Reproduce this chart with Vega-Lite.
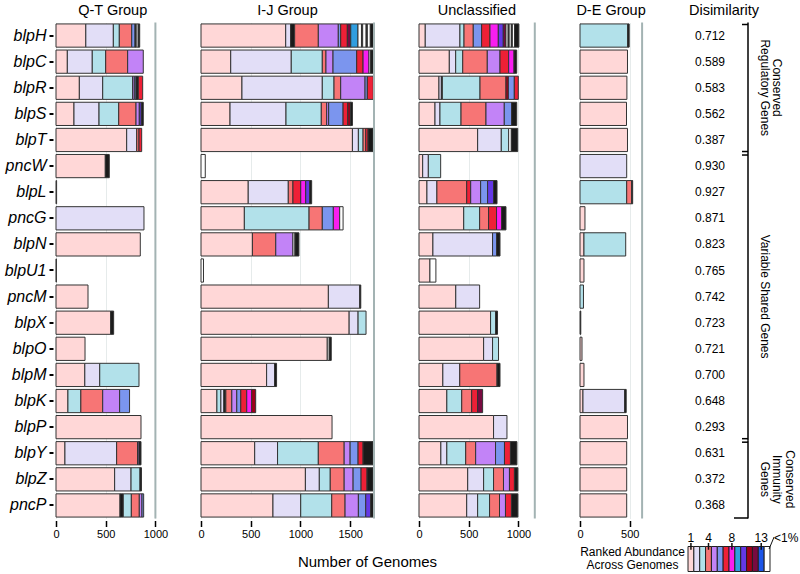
{
"$schema": "https://vega.github.io/schema/vega-lite/v6.json",
"padding": {"left": 4, "top": 2.5, "right": 0, "bottom": 0},
"background": "white",
"config": {
  "view": {"stroke": null},
  "font": "Liberation Sans",
  "title": {"fontSize": 14.5, "fontWeight": "normal", "anchor": "middle", "offset": 3, "baseline": "alphabetic", "font": "Liberation Sans", "color": "#000"},
  "axis": {"labelFont": "Liberation Sans", "titleFont": "Liberation Sans", "labelColor": "#000", "titleColor": "#000"},
  "text": {"font": "Liberation Sans", "color": "#000"}
},
"datasets": {
 "QT": [
{"g":"blpH","r":"1","n":300},{"g":"blpH","r":"2","n":277},{"g":"blpH","r":"3","n":60},{"g":"blpH","r":"4","n":125},{"g":"blpH","r":"6","n":33},{"g":"blpH","r":"k","n":12},{"g":"blpH","r":"o","n":20},{"g":"blpH","r":"k","n":15},
{"g":"blpC","r":"1","n":114},{"g":"blpC","r":"2","n":251},{"g":"blpC","r":"3","n":135},{"g":"blpC","r":"4","n":221},{"g":"blpC","r":"5","n":157},
{"g":"blpR","r":"1","n":235},{"g":"blpR","r":"2","n":235},{"g":"blpR","r":"3","n":301},{"g":"blpR","r":"5","n":17},{"g":"blpR","r":"6","n":17},{"g":"blpR","r":"k","n":23},{"g":"blpR","r":"7","n":44},
{"g":"blpS","r":"1","n":181},{"g":"blpS","r":"2","n":252},{"g":"blpS","r":"3","n":198},{"g":"blpS","r":"4","n":174},{"g":"blpS","r":"5","n":33},{"g":"blpS","r":"10","n":20},{"g":"blpS","r":"k","n":20},
{"g":"blpT","r":"1","n":711},{"g":"blpT","r":"2","n":101},{"g":"blpT","r":"4","n":23},{"g":"blpT","r":"7","n":27},
{"g":"pncW","r":"1","n":496},{"g":"pncW","r":"k","n":40},
{"g":"blpL","r":"1","n":6},
{"g":"pncG","r":"2","n":885},
{"g":"blpN","r":"1","n":848},
{"g":"blpU1","r":"1","n":4},
{"g":"pncM","r":"1","n":322},
{"g":"blpX","r":"1","n":550},{"g":"blpX","r":"k","n":30},
{"g":"blpO","r":"1","n":292},
{"g":"blpM","r":"1","n":290},{"g":"blpM","r":"2","n":150},{"g":"blpM","r":"3","n":395},
{"g":"blpK","r":"1","n":120},{"g":"blpK","r":"3","n":130},{"g":"blpK","r":"4","n":220},{"g":"blpK","r":"5","n":170},{"g":"blpK","r":"6","n":100},
{"g":"blpP","r":"1","n":855},
{"g":"blpY","r":"1","n":90},{"g":"blpY","r":"2","n":520},{"g":"blpY","r":"4","n":210},{"g":"blpY","r":"5","n":15},{"g":"blpY","r":"k","n":20},
{"g":"blpZ","r":"1","n":590},{"g":"blpZ","r":"2","n":165},{"g":"blpZ","r":"3","n":90},{"g":"blpZ","r":"k","n":15},
{"g":"pncP","r":"1","n":644},{"g":"pncP","r":"k","n":33},{"g":"pncP","r":"3","n":81},{"g":"pncP","r":"4","n":80},{"g":"pncP","r":"5","n":27},{"g":"pncP","r":"6","n":17}
 ],
 "IJ": [
{"g":"blpH","r":"1","n":852},{"g":"blpH","r":"2","n":50},{"g":"blpH","r":"k","n":40},{"g":"blpH","r":"4","n":238},{"g":"blpH","r":"5","n":201},{"g":"blpH","r":"6","n":24},{"g":"blpH","r":"7","n":67},{"g":"blpH","r":"12","n":34},{"g":"blpH","r":"9","n":73},{"g":"blpH","r":"o","n":35},{"g":"blpH","r":"k","n":12},{"g":"blpH","r":"o","n":35},{"g":"blpH","r":"k","n":12},{"g":"blpH","r":"o","n":30},{"g":"blpH","r":"k","n":30},
{"g":"blpC","r":"1","n":299},{"g":"blpC","r":"2","n":609},{"g":"blpC","r":"3","n":312},{"g":"blpC","r":"4","n":37},{"g":"blpC","r":"5","n":71},{"g":"blpC","r":"6","n":238},{"g":"blpC","r":"7","n":64},{"g":"blpC","r":"8","n":60},{"g":"blpC","r":"o","n":17},{"g":"blpC","r":"k","n":26},
{"g":"blpR","r":"1","n":412},{"g":"blpR","r":"2","n":808},{"g":"blpR","r":"3","n":118},{"g":"blpR","r":"4","n":67},{"g":"blpR","r":"5","n":245},{"g":"blpR","r":"6","n":23},{"g":"blpR","r":"7","n":60},
{"g":"blpS","r":"1","n":292},{"g":"blpS","r":"2","n":563},{"g":"blpS","r":"3","n":355},{"g":"blpS","r":"4","n":54},{"g":"blpS","r":"5","n":20},{"g":"blpS","r":"6","n":145},{"g":"blpS","r":"7","n":47},{"g":"blpS","r":"11","n":27},{"g":"blpS","r":"k","n":20},
{"g":"blpT","r":"1","n":1523},{"g":"blpT","r":"2","n":60},{"g":"blpT","r":"3","n":47},{"g":"blpT","r":"4","n":27},{"g":"blpT","r":"7","n":23},{"g":"blpT","r":"k","n":50},
{"g":"pncW","r":"o","n":43},
{"g":"blpL","r":"1","n":475},{"g":"blpL","r":"2","n":403},{"g":"blpL","r":"4","n":47},{"g":"blpL","r":"7","n":78},{"g":"blpL","r":"8","n":50},{"g":"blpL","r":"10","n":40},{"g":"blpL","r":"k","n":20},
{"g":"pncG","r":"1","n":436},{"g":"pncG","r":"3","n":651},{"g":"pncG","r":"4","n":133},{"g":"pncG","r":"6","n":111},{"g":"pncG","r":"8","n":64},{"g":"pncG","r":"o","n":34},
{"g":"blpN","r":"1","n":517},{"g":"blpN","r":"4","n":235},{"g":"blpN","r":"5","n":173},{"g":"blpN","r":"o","n":20},{"g":"blpN","r":"k","n":40},
{"g":"blpU1","r":"o","n":25},
{"g":"pncM","r":"1","n":1281},{"g":"pncM","r":"2","n":316},{"g":"pncM","r":"k","n":10},
{"g":"blpX","r":"1","n":1490},{"g":"blpX","r":"2","n":90},{"g":"blpX","r":"3","n":80},
{"g":"blpO","r":"1","n":1270},{"g":"blpO","r":"o","n":20},{"g":"blpO","r":"k","n":20},
{"g":"blpM","r":"1","n":660},{"g":"blpM","r":"2","n":80},{"g":"blpM","r":"k","n":20},
{"g":"blpK","r":"1","n":160},{"g":"blpK","r":"3","n":40},{"g":"blpK","r":"2","n":30},{"g":"blpK","r":"k","n":20},{"g":"blpK","r":"4","n":60},{"g":"blpK","r":"5","n":50},{"g":"blpK","r":"6","n":40},{"g":"blpK","r":"7","n":60},{"g":"blpK","r":"8","n":50},{"g":"blpK","r":"11","n":40},
{"g":"blpP","r":"1","n":1318},
{"g":"blpY","r":"1","n":540},{"g":"blpY","r":"2","n":230},{"g":"blpY","r":"3","n":410},{"g":"blpY","r":"4","n":260},{"g":"blpY","r":"5","n":60},{"g":"blpY","r":"6","n":80},{"g":"blpY","r":"7","n":50},{"g":"blpY","r":"k","n":100},
{"g":"blpZ","r":"1","n":1050},{"g":"blpZ","r":"2","n":140},{"g":"blpZ","r":"3","n":110},{"g":"blpZ","r":"4","n":140},{"g":"blpZ","r":"5","n":90},{"g":"blpZ","r":"6","n":80},{"g":"blpZ","r":"7","n":60},{"g":"blpZ","r":"k","n":60},
{"g":"pncP","r":"1","n":724},{"g":"pncP","r":"2","n":279},{"g":"pncP","r":"3","n":312},{"g":"pncP","r":"4","n":134},{"g":"pncP","r":"5","n":134},{"g":"pncP","r":"6","n":74},{"g":"pncP","r":"10","n":50},{"g":"pncP","r":"k","n":26}
 ],
 "UN": [
{"g":"blpH","r":"1","n":63},{"g":"blpH","r":"2","n":349},{"g":"blpH","r":"3","n":41},{"g":"blpH","r":"4","n":93},{"g":"blpH","r":"6","n":84},{"g":"blpH","r":"7","n":84},{"g":"blpH","r":"8","n":84},{"g":"blpH","r":"10","n":50},{"g":"blpH","r":"12","n":27},{"g":"blpH","r":"o","n":22},{"g":"blpH","r":"k","n":10},{"g":"blpH","r":"o","n":22},{"g":"blpH","r":"k","n":10},{"g":"blpH","r":"o","n":22},{"g":"blpH","r":"k","n":44},
{"g":"blpC","r":"1","n":305},{"g":"blpC","r":"2","n":64},{"g":"blpC","r":"3","n":71},{"g":"blpC","r":"4","n":247},{"g":"blpC","r":"5","n":128},{"g":"blpC","r":"7","n":87},{"g":"blpC","r":"8","n":54},{"g":"blpC","r":"k","n":27},
{"g":"blpR","r":"1","n":201},{"g":"blpR","r":"2","n":24},{"g":"blpR","r":"k","n":10},{"g":"blpR","r":"3","n":379},{"g":"blpR","r":"4","n":261},{"g":"blpR","r":"11","n":24},{"g":"blpR","r":"6","n":60},{"g":"blpR","r":"7","n":40},
{"g":"blpS","r":"1","n":161},{"g":"blpS","r":"2","n":50},{"g":"blpS","r":"3","n":212},{"g":"blpS","r":"4","n":251},{"g":"blpS","r":"5","n":184},{"g":"blpS","r":"6","n":74},{"g":"blpS","r":"k","n":51},
{"g":"blpT","r":"1","n":590},{"g":"blpT","r":"2","n":238},{"g":"blpT","r":"3","n":74},{"g":"blpT","r":"o","n":27},{"g":"blpT","r":"k","n":64},
{"g":"pncW","r":"1","n":37},{"g":"pncW","r":"2","n":57},{"g":"pncW","r":"3","n":124},
{"g":"blpL","r":"1","n":80},{"g":"blpL","r":"2","n":100},{"g":"blpL","r":"4","n":300},{"g":"blpL","r":"7","n":40},{"g":"blpL","r":"5","n":100},{"g":"blpL","r":"6","n":70},{"g":"blpL","r":"10","n":60},{"g":"blpL","r":"k","n":35},
{"g":"pncG","r":"1","n":450},{"g":"pncG","r":"3","n":160},{"g":"pncG","r":"4","n":90},{"g":"pncG","r":"7","n":80},{"g":"pncG","r":"8","n":50},{"g":"pncG","r":"k","n":45},
{"g":"blpN","r":"1","n":140},{"g":"blpN","r":"2","n":600},{"g":"blpN","r":"6","n":40},{"g":"blpN","r":"k","n":35},
{"g":"blpU1","r":"1","n":110},{"g":"blpU1","r":"o","n":60},
{"g":"pncM","r":"1","n":370},{"g":"pncM","r":"2","n":240},
{"g":"blpX","r":"1","n":720},{"g":"blpX","r":"3","n":50},{"g":"blpX","r":"k","n":20},
{"g":"blpO","r":"1","n":650},{"g":"blpO","r":"2","n":90},{"g":"blpO","r":"3","n":60},
{"g":"blpM","r":"1","n":240},{"g":"blpM","r":"2","n":170},{"g":"blpM","r":"4","n":375},{"g":"blpM","r":"k","n":30},
{"g":"blpK","r":"1","n":280},{"g":"blpK","r":"3","n":150},{"g":"blpK","r":"4","n":100},{"g":"blpK","r":"7","n":60},{"g":"blpK","r":"12","n":50},
{"g":"blpP","r":"1","n":750},{"g":"blpP","r":"2","n":135},
{"g":"blpY","r":"1","n":220},{"g":"blpY","r":"2","n":60},{"g":"blpY","r":"3","n":190},{"g":"blpY","r":"4","n":100},{"g":"blpY","r":"5","n":200},{"g":"blpY","r":"6","n":90},{"g":"blpY","r":"7","n":60},{"g":"blpY","r":"k","n":65},
{"g":"blpZ","r":"1","n":490},{"g":"blpZ","r":"2","n":160},{"g":"blpZ","r":"3","n":100},{"g":"blpZ","r":"4","n":100},{"g":"blpZ","r":"5","n":60},{"g":"blpZ","r":"7","n":50},{"g":"blpZ","r":"k","n":35},
{"g":"pncP","r":"1","n":480},{"g":"pncP","r":"2","n":110},{"g":"pncP","r":"3","n":120},{"g":"pncP","r":"4","n":100},{"g":"pncP","r":"5","n":60},{"g":"pncP","r":"7","n":60},{"g":"pncP","r":"k","n":65}
 ],
 "DE": [
{"g":"blpH","r":"3","n":480},{"g":"blpH","r":"k","n":15},
{"g":"blpC","r":"1","n":478},
{"g":"blpR","r":"1","n":472},
{"g":"blpS","r":"1","n":468},
{"g":"blpT","r":"1","n":478},
{"g":"pncW","r":"2","n":470},
{"g":"blpL","r":"3","n":470},{"g":"blpL","r":"4","n":50},{"g":"blpL","r":"k","n":10},
{"g":"pncG","r":"1","n":50},
{"g":"blpN","r":"1","n":40},{"g":"blpN","r":"3","n":420},
{"g":"blpU1","r":"1","n":40},
{"g":"pncM","r":"3","n":35},
{"g":"blpX","r":"k","n":8},
{"g":"blpO","r":"1","n":20},
{"g":"blpM","r":"1","n":40},
{"g":"blpK","r":"1","n":30},{"g":"blpK","r":"2","n":420},{"g":"blpK","r":"k","n":15},
{"g":"blpP","r":"1","n":478},
{"g":"blpY","r":"1","n":470},
{"g":"blpZ","r":"1","n":470},
{"g":"pncP","r":"1","n":470}
 ],
 "DIS": [
{"g":"blpH","d":0.712},{"g":"blpC","d":0.589},{"g":"blpR","d":0.583},{"g":"blpS","d":0.562},{"g":"blpT","d":0.387},
{"g":"pncW","d":0.930},{"g":"blpL","d":0.927},{"g":"pncG","d":0.871},{"g":"blpN","d":0.823},{"g":"blpU1","d":0.765},
{"g":"pncM","d":0.742},{"g":"blpX","d":0.723},{"g":"blpO","d":0.721},{"g":"blpM","d":0.700},{"g":"blpK","d":0.648},
{"g":"blpP","d":0.293},{"g":"blpY","d":0.631},{"g":"blpZ","d":0.372},{"g":"pncP","d":0.368}
 ],
 "BR": [
{"s":0,"e":5},
{"s":5,"e":16},
{"s":16,"e":19}
 ],
 "BRL": [
{"s":0,"e":5,"l":1,"t":"Conserved"},
{"s":0,"e":5,"l":0,"t":"Regulatory Genes"},
{"s":5,"e":16,"l":0,"t":"Variable Shared Genes"},
{"s":16,"e":19,"l":2,"t":"Conserved"},
{"s":16,"e":19,"l":1,"t":"Immunity"},
{"s":16,"e":19,"l":0,"t":"Genes"}
 ],
 "LEG": [
{"r":"1","t":"1"},{"r":"2","t":""},{"r":"3","t":""},{"r":"4","t":"4"},{"r":"5","t":""},{"r":"6","t":""},{"r":"7","t":""},{"r":"8","t":"8"},{"r":"9","t":""},{"r":"10","t":""},{"r":"11","t":""},{"r":"12","t":""},{"r":"13","t":"13"},{"r":"o","t":"<1%"}
 ]
},
"spacing": 45,
"bounds": "flush",
"hconcat": [
 {
  "width": 99.4, "height": 496,
  "title": {"text": "Q-T Group", "dx": 7},
  "layer": [
   {"data": {"name": "QT"},
    "transform": [{"window": [{"op": "row_number", "as": "i"}]}],
    "mark": {"type": "bar", "stroke": "#333333", "strokeWidth": 1},
    "encoding": {
     "y": {"field": "g", "type": "nominal", "scale": {"domain": ["blpH","blpC","blpR","blpS","blpT","pncW","blpL","pncG","blpN","blpU1","pncM","blpX","blpO","blpM","blpK","blpP","blpY","blpZ","pncP"], "paddingInner": 0.11, "paddingOuter": 0.055},
           "axis": {"title": null, "labelFontStyle": "italic", "labelFontSize": 16, "tickColor": "#000", "tickSize": 4, "tickWidth": 2, "domain": false, "offset": 3, "labelPadding": 3}},
     "x": {"field": "n", "type": "quantitative", "stack": "zero", "scale": {"domain": [0, 1000], "nice": false},
           "axis": {"title": null, "values": [0, 500, 1000], "format": "d", "grid": true, "gridColor": "#e6ebeb", "domain": false, "tickColor": "#000", "tickSize": 6, "tickWidth": 1.5, "offset": 2, "labelFontSize": 11, "labelPadding": 2, "labelFlush": false}},
     "color": {"field": "r", "type": "nominal", "scale": {"domain": ["1","2","3","4","5","6","7","8","9","10","11","12","13","o","k"], "range": ["#FFD7D7","#E2DEF7","#B2E1EA","#F77575","#C283F7","#7B95EE","#EE2036","#F81EF0","#2F9EE0","#6438E6","#A0001A","#780A40","#1C55E8","#FFFFFF","#1A1A1A"]}, "legend": null},
     "order": {"field": "i", "type": "quantitative"}
    }},
   {"data": {"values": [{}]}, "mark": {"type": "rule", "color": "#a3b3b3", "strokeWidth": 2}, "encoding": {"x": {"datum": 1000, "type": "quantitative"}}}
  ]
 },
 {
  "width": 173.0, "height": 496,
  "title": {"text": "I-J Group"},
  "layer": [
   {"data": {"name": "IJ"},
    "transform": [{"window": [{"op": "row_number", "as": "i"}]}],
    "mark": {"type": "bar", "stroke": "#333333", "strokeWidth": 1},
    "encoding": {
     "y": {"field": "g", "type": "nominal", "scale": {"domain": ["blpH","blpC","blpR","blpS","blpT","pncW","blpL","pncG","blpN","blpU1","pncM","blpX","blpO","blpM","blpK","blpP","blpY","blpZ","pncP"], "paddingInner": 0.11, "paddingOuter": 0.055}, "axis": null},
     "x": {"field": "n", "type": "quantitative", "stack": "zero", "scale": {"domain": [0, 1740], "nice": false},
           "axis": {"title": "Number of Genomes", "titleFontSize": 15, "titleFontWeight": "normal", "titleX": 166, "titleY": 45.6, "titleBaseline": "alphabetic", "titleAlign": "center", "values": [0, 500, 1000, 1500], "format": "d", "grid": true, "gridColor": "#e6ebeb", "domain": false, "tickColor": "#000", "tickSize": 6, "tickWidth": 1.5, "offset": 2, "labelFontSize": 11, "labelPadding": 2, "labelFlush": false}},
     "color": {"field": "r", "type": "nominal", "scale": {"domain": ["1","2","3","4","5","6","7","8","9","10","11","12","13","o","k"], "range": ["#FFD7D7","#E2DEF7","#B2E1EA","#F77575","#C283F7","#7B95EE","#EE2036","#F81EF0","#2F9EE0","#6438E6","#A0001A","#780A40","#1C55E8","#FFFFFF","#1A1A1A"]}, "legend": null},
     "order": {"field": "i", "type": "quantitative"}
    }},
   {"data": {"values": [{}]}, "mark": {"type": "rule", "color": "#a3b3b3", "strokeWidth": 2}, "encoding": {"x": {"datum": 1740, "type": "quantitative"}}}
  ]
 },
 {
  "width": 115.8, "height": 496,
  "title": {"text": "Unclassified"},
  "layer": [
   {"data": {"name": "UN"},
    "transform": [{"window": [{"op": "row_number", "as": "i"}]}],
    "mark": {"type": "bar", "stroke": "#333333", "strokeWidth": 1},
    "encoding": {
     "y": {"field": "g", "type": "nominal", "scale": {"domain": ["blpH","blpC","blpR","blpS","blpT","pncW","blpL","pncG","blpN","blpU1","pncM","blpX","blpO","blpM","blpK","blpP","blpY","blpZ","pncP"], "paddingInner": 0.11, "paddingOuter": 0.055}, "axis": null},
     "x": {"field": "n", "type": "quantitative", "stack": "zero", "scale": {"domain": [0, 1165], "nice": false},
           "axis": {"title": null, "values": [0, 500, 1000], "format": "d", "grid": true, "gridColor": "#e6ebeb", "domain": false, "tickColor": "#000", "tickSize": 6, "tickWidth": 1.5, "offset": 2, "labelFontSize": 11, "labelPadding": 2, "labelFlush": false}},
     "color": {"field": "r", "type": "nominal", "scale": {"domain": ["1","2","3","4","5","6","7","8","9","10","11","12","13","o","k"], "range": ["#FFD7D7","#E2DEF7","#B2E1EA","#F77575","#C283F7","#7B95EE","#EE2036","#F81EF0","#2F9EE0","#6438E6","#A0001A","#780A40","#1C55E8","#FFFFFF","#1A1A1A"]}, "legend": null},
     "order": {"field": "i", "type": "quantitative"}
    }},
   {"data": {"values": [{}]}, "mark": {"type": "rule", "color": "#a3b3b3", "strokeWidth": 2}, "encoding": {"x": {"datum": 1165, "type": "quantitative"}}}
  ]
 },
 {
  "width": 62.1, "height": 496,
  "title": {"text": "D-E Group"},
  "layer": [
   {"data": {"name": "DE"},
    "transform": [{"window": [{"op": "row_number", "as": "i"}]}],
    "mark": {"type": "bar", "stroke": "#333333", "strokeWidth": 1},
    "encoding": {
     "y": {"field": "g", "type": "nominal", "scale": {"domain": ["blpH","blpC","blpR","blpS","blpT","pncW","blpL","pncG","blpN","blpU1","pncM","blpX","blpO","blpM","blpK","blpP","blpY","blpZ","pncP"], "paddingInner": 0.11, "paddingOuter": 0.055}, "axis": null},
     "x": {"field": "n", "type": "quantitative", "stack": "zero", "scale": {"domain": [0, 625], "nice": false},
           "axis": {"title": null, "values": [0, 500], "format": "d", "grid": true, "gridColor": "#e6ebeb", "domain": false, "tickColor": "#000", "tickSize": 6, "tickWidth": 1.5, "offset": 2, "labelFontSize": 11, "labelPadding": 2, "labelFlush": false}},
     "color": {"field": "r", "type": "nominal", "scale": {"domain": ["1","2","3","4","5","6","7","8","9","10","11","12","13","o","k"], "range": ["#FFD7D7","#E2DEF7","#B2E1EA","#F77575","#C283F7","#7B95EE","#EE2036","#F81EF0","#2F9EE0","#6438E6","#A0001A","#780A40","#1C55E8","#FFFFFF","#1A1A1A"]}, "legend": null},
     "order": {"field": "i", "type": "quantitative"}
    }},
   {"data": {"values": [{}]}, "mark": {"type": "rule", "color": "#a3b3b3", "strokeWidth": 2}, "encoding": {"x": {"datum": 625, "type": "quantitative"}}}
  ]
 },
 {
  "vconcat": [
   {
    "width": 72, "height": 496,
    "title": {"text": "Disimilarity"},
    "resolve": {"scale": {"y": "independent"}},
    "layer": [
     {"data": {"name": "DIS"},
      "mark": {"type": "text", "fontSize": 12, "baseline": "middle", "align": "center"},
      "encoding": {
       "y": {"field": "g", "type": "nominal", "scale": {"domain": ["blpH","blpC","blpR","blpS","blpT","pncW","blpL","pncG","blpN","blpU1","pncM","blpX","blpO","blpM","blpK","blpP","blpY","blpZ","pncP"], "paddingInner": 0.11, "paddingOuter": 0.055}, "axis": null},
       "x": {"datum": 22, "type": "quantitative", "scale": {"domain": [0, 72], "nice": false, "zero": false}, "axis": null},
       "text": {"field": "d", "type": "quantitative", "format": ".3f"}
      }},
     {"data": {"name": "BR"},
      "mark": {"type": "rule", "color": "#000", "strokeWidth": 1.5},
      "encoding": {
       "x": {"datum": 60, "type": "quantitative", "scale": {"domain": [0, 72], "nice": false, "zero": false}, "axis": null},
       "y": {"field": "s", "type": "quantitative", "scale": {"domain": [0, 19], "reverse": true, "nice": false, "zero": false}, "axis": null},
       "y2": {"field": "e"}
      }},
     {"data": {"name": "BR"},
      "mark": {"type": "rule", "color": "#000", "strokeWidth": 1.5, "yOffset": 2},
      "encoding": {
       "x": {"datum": 54, "type": "quantitative", "scale": {"domain": [0, 72], "nice": false, "zero": false}, "axis": null},
       "x2": {"datum": 60},
       "y": {"field": "s", "type": "quantitative", "scale": {"domain": [0, 19], "reverse": true, "nice": false, "zero": false}, "axis": null}
      }},
     {"data": {"name": "BR"},
      "transform": [{"filter": "datum.e < 19"}],
      "mark": {"type": "rule", "color": "#000", "strokeWidth": 1.5, "yOffset": -1.5},
      "encoding": {
       "x": {"datum": 54, "type": "quantitative", "scale": {"domain": [0, 72], "nice": false, "zero": false}, "axis": null},
       "x2": {"datum": 60},
       "y": {"field": "e", "type": "quantitative", "scale": {"domain": [0, 19], "reverse": true, "nice": false, "zero": false}, "axis": null}
      }},
     {"data": {"name": "BR"},
      "transform": [{"filter": "datum.e == 19"}],
      "mark": {"type": "rule", "color": "#000", "strokeWidth": 1.5, "yOffset": -0.5},
      "encoding": {
       "x": {"datum": 46, "type": "quantitative", "scale": {"domain": [0, 72], "nice": false, "zero": false}, "axis": null},
       "x2": {"datum": 60},
       "y": {"field": "e", "type": "quantitative", "scale": {"domain": [0, 19], "reverse": true, "nice": false, "zero": false}, "axis": null}
      }},
     {"data": {"name": "BRL"},
      "transform": [{"calculate": "(datum.s + datum.e) / 2", "as": "m"}, {"calculate": "69.5 + 12.8 * datum.l", "as": "lx"}],
      "mark": {"type": "text", "fontSize": 12, "angle": 90, "baseline": "bottom", "align": "center"},
      "encoding": {
       "x": {"field": "lx", "type": "quantitative", "scale": {"domain": [0, 72], "nice": false, "zero": false}, "axis": null},
       "y": {"field": "m", "type": "quantitative", "scale": {"domain": [0, 19], "reverse": true, "nice": false, "zero": false}, "axis": null},
       "text": {"field": "t"}
      }}
    ]
   },
   {
    "width": 82, "height": 25,
    "data": {"name": "LEG"},
    "encoding": {
     "x": {"field": "r", "type": "nominal", "sort": null, "scale": {"domain": ["1","2","3","4","5","6","7","8","9","10","11","12","13","o"], "paddingInner": 0, "paddingOuter": 0}, "axis": null}
    },
    "layer": [
     {"mark": {"type": "rect", "stroke": "#222", "strokeWidth": 1},
      "encoding": {
       "y": {"datum": 0, "type": "quantitative", "scale": {"domain": [0, 1], "nice": false, "zero": false},
             "axis": {"title": ["Ranked Abundance", "Across Genomes"], "titleAngle": 0, "titleX": -56, "titleY": 8.5, "titleAlign": "center", "titleBaseline": "alphabetic", "titleFontSize": 12, "titleFontWeight": "normal", "titleLineHeight": 13, "labels": false, "ticks": false, "domain": false, "grid": false}},
       "y2": {"datum": 1},
       "color": {"field": "r", "type": "nominal", "scale": {"domain": ["1","2","3","4","5","6","7","8","9","10","11","12","13","o","k"], "range": ["#FFD7D7","#E2DEF7","#B2E1EA","#F77575","#C283F7","#7B95EE","#EE2036","#F81EF0","#2F9EE0","#6438E6","#A0001A","#780A40","#1C55E8","#FFFFFF","#1A1A1A"]}, "legend": null}
      }},
     {"transform": [{"filter": "datum.t != '' && datum.r != 'o'"}],
      "mark": {"type": "rule", "color": "#111", "strokeWidth": 1.5},
      "encoding": {"y": {"datum": 0.87, "type": "quantitative"}, "y2": {"datum": 1.14}}},
     {"transform": [{"filter": "datum.t != '' && datum.r != 'o'"}],
      "mark": {"type": "text", "fontSize": 12, "baseline": "alphabetic", "dy": -1},
      "encoding": {"y": {"datum": 1.14, "type": "quantitative"}, "text": {"field": "t"}}},
     {"transform": [{"filter": "datum.r == 'o'"}],
      "mark": {"type": "text", "fontSize": 12, "baseline": "alphabetic", "align": "left", "dx": 7, "dy": -1},
      "encoding": {"y": {"datum": 1.14, "type": "quantitative"}, "text": {"field": "t"}}},
     {"transform": [{"filter": "datum.r == 'o'"}],
      "mark": {"type": "rule", "color": "#111", "strokeWidth": 1, "xOffset": 2, "x2Offset": 7},
      "encoding": {"x2": {"field": "r"}, "y": {"datum": 0.9, "type": "quantitative"}, "y2": {"datum": 1.38}}}
    ]
   }
  ],
  "spacing": 28,
  "bounds": "flush"
 }
]
}
